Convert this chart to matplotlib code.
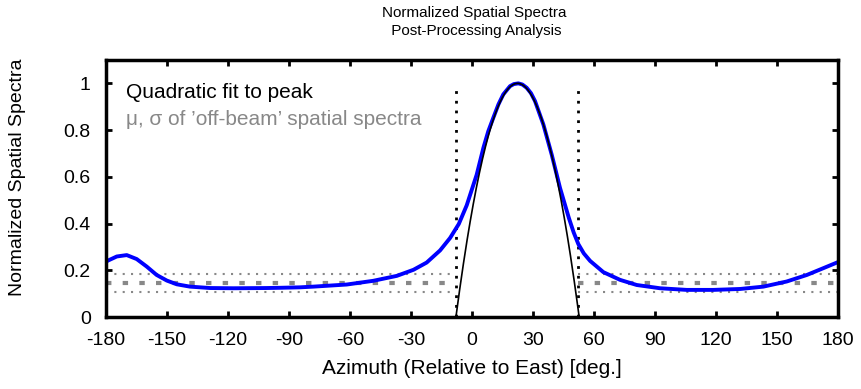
import numpy as np
import matplotlib
matplotlib.use("Agg")
import matplotlib.pyplot as plt
from matplotlib import font_manager

plt.rcParams['font.family'] = ['Liberation Sans', 'DejaVu Sans']
plt.rcParams['axes.unicode_minus'] = False

# Blue: normalized spatial spectrum
azimuth = [-180, -178.9, -174.7, -169.8, -164.9, -160.0, -155.1, -150.1, -145.2, -138.7,
           -128.8, -117.4, -101.0, -94.4, -84.6, -78.0, -61.6, -48.5, -37.0, -28.8,
           -22.3, -15.7, -10.8, -6.5, -2.6, 2.3, 5.6, 8.0, 10.5, 13.0, 15.4, 18.7, 20.6,
           22.8, 24.8, 26.9, 29.0, 31.0, 35.1, 39.2, 43.3, 47.6, 50.0, 52.3, 55.0, 58.1,
           64.6, 72.8, 81.0, 92.5, 105.6, 118.7, 131.9, 143.3, 154.8, 164.7, 172.8, 180]
spectrum = [0.237, 0.242, 0.259, 0.265, 0.248, 0.216, 0.180, 0.156, 0.140, 0.130,
            0.124, 0.123, 0.124, 0.125, 0.127, 0.130, 0.139, 0.155, 0.176, 0.202,
            0.233, 0.285, 0.338, 0.398, 0.478, 0.609, 0.724, 0.795, 0.853, 0.910, 0.953, 0.988, 0.997,
            1.0, 0.995, 0.981, 0.958, 0.924, 0.824, 0.695, 0.552, 0.425, 0.362, 0.312, 0.272, 0.240,
            0.192, 0.159, 0.137, 0.123, 0.116, 0.116, 0.120, 0.130, 0.152, 0.180, 0.209, 0.235]

# Quadratic fit coefficients (peak location, half width at zero crossing)
fit_peak_az = 22.4
fit_half_width = 30.3
beam_edges = [-8.0, 52.3]

# Off-beam statistics
mu = 0.147
sigma = 0.039

xticks = [-180, -150, -120, -90, -60, -30, 0, 30, 60, 90, 120, 150, 180]
yticks = [0, 0.2, 0.4, 0.6, 0.8, 1]
ytick_labels = ['0', '0.2', '0.4', '0.6', '0.8', '1']

names = {f.name for f in font_manager.fontManager.ttflist}
narrow = 'Liberation Sans Narrow' if 'Liberation Sans Narrow' in names else 'Liberation Sans'
title_size = 12.5 if narrow == 'Liberation Sans Narrow' else 11

fig = plt.figure(figsize=(8.61, 3.89), dpi=100)
ax = fig.add_axes([106/861, 1 - 317/389, (838-106)/861, (317-60)/389])

# gray mu / sigma lines, off-beam regions only
segments = [(-180, beam_edges[0]), (beam_edges[1], 180)]
for a, b in segments:
    ax.plot([a, b], [mu, mu], color='#888888', lw=3, ls=(0, (1.3, 2.7)), solid_capstyle='butt')
    ax.plot([a, b], [mu + sigma, mu + sigma], color='#888888', lw=1.5, ls=(0, (1, 3)))
    ax.plot([a, b], [mu - sigma, mu - sigma], color='#888888', lw=1.5, ls=(0, (1, 3)))

# beam edges
for e in beam_edges:
    ax.plot([e, e], [0, 0.99], color='black', lw=2, ls=(0, (1, 2.5)))

# spectrum
ax.plot(azimuth, spectrum, color='#0000ff', lw=2.8, solid_joinstyle='round')

# quadratic fit
xf = np.linspace(fit_peak_az - fit_half_width, fit_peak_az + fit_half_width, 200)
yf = 1 - ((xf - fit_peak_az) / fit_half_width) ** 2
ax.plot(xf, yf, color='black', lw=1.2)

ax.set_xlim(-180, 180)
ax.set_ylim(0, 1.1)
ax.set_xticks(xticks)
ax.set_yticks(yticks)
ax.set_yticklabels(ytick_labels)
ax.tick_params(direction='in', length=4, width=2, top=True, right=True, labelsize=14)
ax.tick_params(axis='x', pad=11)
ax.tick_params(axis='y', pad=11)
for s in ax.spines.values():
    s.set_linewidth(2.5)

ax.text(0.028, 0.875, 'Quadratic fit to peak', transform=ax.transAxes, fontsize=15,
        color='black', va='center', ha='left')
ax.text(0.028, 0.767, "\u03bc, \u03c3 of \u2019off-beam\u2019 spatial spectra", transform=ax.transAxes,
        fontsize=15, color='#888888', va='center', ha='left')

ax.set_xlabel('Azimuth (Relative to East) [deg.]', fontsize=15)
ax.xaxis.set_label_coords(0.5, (317 - 368) / 257)
ax.xaxis.label.set_va('center')
ax.set_ylabel('Normalized Spatial Spectra', fontsize=14)
ax.yaxis.set_label_coords((18 - 106) / 732, 0.543)
ax.yaxis.label.set_va('center')
fig.text(0.551, 1 - 22/389, 'Normalized Spatial Spectra\n Post-Processing Analysis', ha='center',
         va='center', fontsize=title_size, linespacing=1.3, family=[narrow, 'DejaVu Sans'])

fig.savefig('out.png', dpi=100)
